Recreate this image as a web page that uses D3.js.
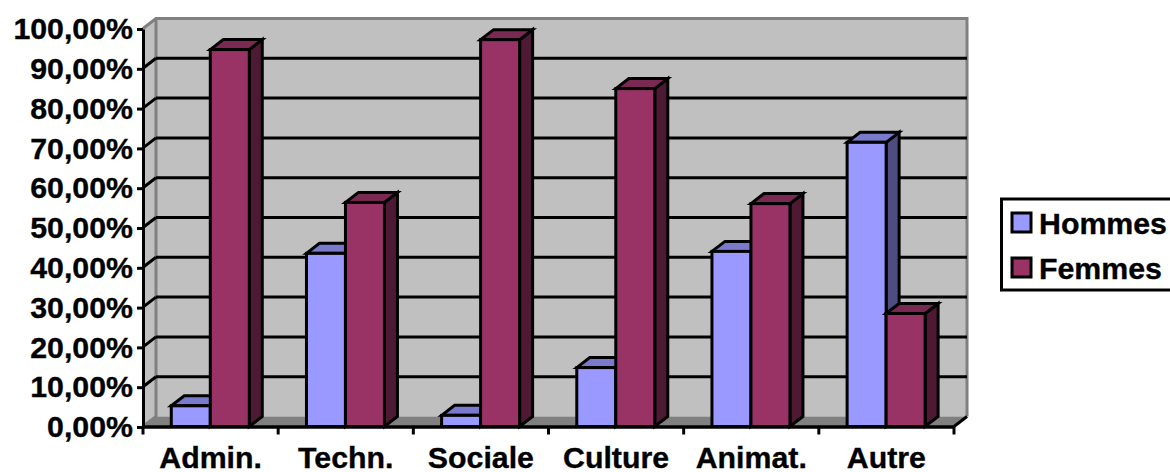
<!DOCTYPE html>
<html><head><meta charset="utf-8">
<script src="https://cdnjs.cloudflare.com/ajax/libs/d3/7.8.5/d3.min.js"></script>
<style>html,body{margin:0;padding:0;background:#fff;overflow:hidden}
svg{display:block}text{font-family:"Liberation Sans",Arial,sans-serif;font-weight:bold;fill:#000;stroke:#000;stroke-width:0.35px}</style>
</head><body><svg id="c" width="1170" height="472"></svg>
<script>
const categories = ["Admin.","Techn.","Sociale","Culture","Animat.","Autre"];
const seriesNames = ["Hommes","Femmes"];
const hommes = [5.2,43.5,2.8,14.8,44,71.4];
const femmes = [94.7,56.3,97.2,84.9,56,28.4];
const yTicks = [0,10,20,30,40,50,60,70,80,90,100];
const colors = ["#9999FF","#993366"];
const sideColors = ["#4D4D80","#4D1933"];
const topColors = ["#7A7ACC","#7A2952"];

const svg = d3.select("#c");
const L=143,R=954,B=426.5,T=28.5,dx=13,dy=-10;
const FS=30.3;
const x=d3.scaleBand().domain(categories).range([L,R]);
const inner=d3.scaleBand().domain(seriesNames).range([0,78]);
const y=d3.scaleLinear().domain([0,100]).range([B,T]);
const pts=a=>a.map(p=>p.join(",")).join(" ");

// walls
svg.append("polygon").attr("points",pts([[L+dx,T+dy],[R+dx,T+dy],[R+dx,B+dy],[L+dx,B+dy]])).attr("fill","#C0C0C0");
svg.append("polygon").attr("points",pts([[L,T],[L+dx,T+dy],[L+dx,B+dy],[L,B]])).attr("fill","#C0C0C0");
svg.append("polygon").attr("points",pts([[L,B],[L+dx,B+dy],[R+dx,B+dy],[R,B]])).attr("fill","#808080");
svg.append("path").attr("d",`M${L},${T}L${L+dx},${T+dy}H${R+dx}V${B+dy}M${L+dx},${T+dy}V${B+dy}L${L},${B}`)
  .attr("fill","none").attr("stroke","#808080").attr("stroke-width",3);
svg.append("path").attr("d",`M${R+dx},${B+dy}L${R},${B}`).attr("stroke","#000").attr("stroke-width",3);

// gridlines
svg.append("g").selectAll("line").data(yTicks.filter(t=>t>0&&t<100)).join("line")
  .attr("x1",L+dx).attr("x2",R+dx).attr("y1",d=>y(d)+dy).attr("y2",d=>y(d)+dy)
  .attr("stroke","#000").attr("stroke-width",3);
// depth ticks on left wall
svg.append("g").selectAll("line").data(yTicks.filter(t=>t>0&&t<100)).join("line")
  .attr("x1",L).attr("x2",L+dx).attr("y1",d=>y(d)).attr("y2",d=>y(d)+dy)
  .attr("stroke","#000").attr("stroke-width",3);

// bars
const bars=[];
categories.forEach((c,i)=>{seriesNames.forEach((s,j)=>bars.push({c,s,j,v:[hommes,femmes][j][i]}));});
const g=svg.append("g").attr("stroke","#000").attr("stroke-width",3).attr("stroke-linejoin","miter");
bars.forEach(d=>{
  const off=(x.bandwidth()-78)/2;
  const x0=x(d.c)+off+inner(d.s)-0.3, x1=x0+inner.bandwidth(), y0=y(d.v);
  g.append("polygon").attr("points",pts([[x1,y0],[x1+dx,y0+dy],[x1+dx,B+dy],[x1,B]])).attr("fill",sideColors[d.j]);
  g.append("polygon").attr("points",pts([[x0,y0],[x0+dx,y0+dy],[x1+dx,y0+dy],[x1,y0]])).attr("fill",topColors[d.j]);
  g.append("rect").attr("x",x0).attr("y",y0).attr("width",x1-x0).attr("height",B-y0).attr("fill",colors[d.j]);
});

// axes
const ya=svg.append("g").attr("transform",`translate(${L},0.5)`)
  .call(d3.axisLeft(y).tickValues(yTicks).tickSize(6).tickSizeOuter(0).tickPadding(4)
    .tickFormat(d=>d3.format(".2f")(d).replace(".",",")+"%"));
ya.selectAll("path").attr("stroke","#000").attr("stroke-width",3);
ya.selectAll("line").attr("stroke","#000").attr("stroke-width",3);
ya.selectAll("text").attr("font-size",FS).attr("font-family",null);
const xa=svg.append("g").attr("transform",`translate(0,${B})`)
  .call(d3.axisBottom(x).tickSize(0).tickSizeOuter(0).tickPadding(20));
xa.selectAll("path").attr("stroke","#000").attr("stroke-width",3.5);
xa.selectAll("text").attr("font-size",FS).attr("font-family",null);
xa.selectAll("line.b").data(d3.range(categories.length+1)).join("line").attr("class","b")
  .attr("x1",i=>L+i*x.step()).attr("x2",i=>L+i*x.step()).attr("y1",0).attr("y2",8)
  .attr("stroke","#000").attr("stroke-width",3);

// legend
svg.append("rect").attr("x",1001.5).attr("y",199).attr("width",190).attr("height",91)
  .attr("fill","#fff").attr("stroke","#000").attr("stroke-width",3);
const lg=svg.append("g").selectAll("g").data(seriesNames).join("g")
  .attr("transform",(d,i)=>`translate(0,${213+i*45})`);
lg.append("rect").attr("x",1012).attr("y",0).attr("width",19).attr("height",19)
  .attr("fill",(d,i)=>colors[i]).attr("stroke","#000").attr("stroke-width",3);
lg.append("text").attr("x",1039).attr("y",10.5).attr("dy","0.36em").attr("font-size",FS).text(d=>d);
</script></body></html>
